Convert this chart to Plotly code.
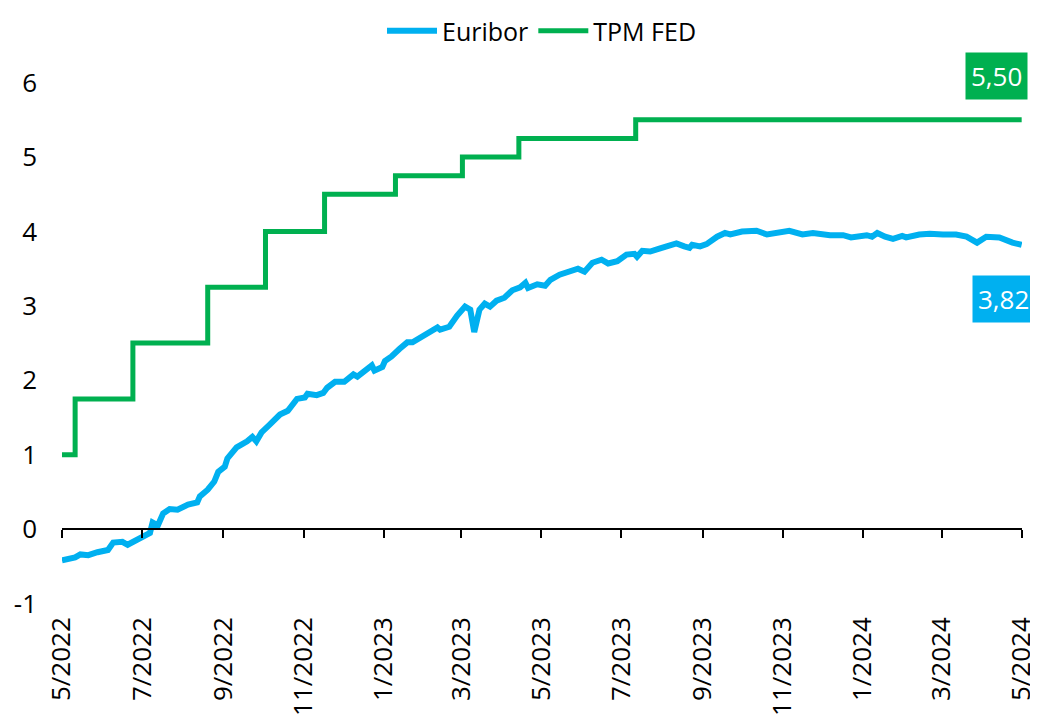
import plotly.graph_objects as go

# ---- data ----
euribor_dates = [
    "2022-05-01", "2022-05-11", "2022-05-15", "2022-05-21", "2022-05-28", "2022-06-05",
    "2022-06-09", "2022-06-16", "2022-06-20", "2022-07-01", "2022-07-07", "2022-07-09",
    "2022-07-13", "2022-07-17", "2022-07-22", "2022-07-28", "2022-08-05", "2022-08-12",
    "2022-08-14", "2022-08-20", "2022-08-25", "2022-08-28", "2022-09-02", "2022-09-04",
    "2022-09-11", "2022-09-19", "2022-09-23", "2022-09-26", "2022-09-30", "2022-10-06",
    "2022-10-14", "2022-10-20", "2022-10-27", "2022-11-02", "2022-11-04", "2022-11-11",
    "2022-11-16", "2022-11-19", "2022-11-25", "2022-12-02", "2022-12-09", "2022-12-12",
    "2022-12-18", "2022-12-23", "2022-12-25", "2022-12-31", "2023-01-02", "2023-01-07",
    "2023-01-13", "2023-01-19", "2023-01-23", "2023-01-31", "2023-02-11", "2023-02-13",
    "2023-02-20", "2023-02-26", "2023-03-04", "2023-03-08", "2023-03-11", "2023-03-15",
    "2023-03-19", "2023-03-23", "2023-03-28", "2023-04-03", "2023-04-09", "2023-04-15",
    "2023-04-19", "2023-04-21", "2023-04-28", "2023-05-04", "2023-05-08", "2023-05-15",
    "2023-05-23", "2023-05-29", "2023-06-03", "2023-06-09", "2023-06-16", "2023-06-21",
    "2023-06-28", "2023-07-05", "2023-07-11", "2023-07-13", "2023-07-17", "2023-07-23",
    "2023-07-30", "2023-08-07", "2023-08-12", "2023-08-18", "2023-08-22", "2023-08-24",
    "2023-08-30", "2023-09-04", "2023-09-12", "2023-09-18", "2023-09-22", "2023-10-01",
    "2023-10-12", "2023-10-20", "2023-10-27", "2023-11-06", "2023-11-16", "2023-11-24",
    "2023-12-07", "2023-12-17", "2023-12-23", "2024-01-04", "2024-01-08", "2024-01-12",
    "2024-01-18", "2024-01-24", "2024-01-31", "2024-02-03", "2024-02-13", "2024-02-21",
    "2024-03-02", "2024-03-12", "2024-03-20", "2024-03-28", "2024-04-04", "2024-04-14",
    "2024-04-24", "2024-05-01",
]
euribor_values = [
    -0.42, -0.38, -0.34, -0.35, -0.31, -0.28,
    -0.18, -0.17, -0.21, -0.12, -0.05, 0.09,
    0.05, 0.21, 0.27, 0.26, 0.33, 0.36,
    0.44, 0.53, 0.64, 0.77, 0.84, 0.95,
    1.10, 1.18, 1.24, 1.18, 1.30, 1.40,
    1.54, 1.59, 1.75, 1.77, 1.82, 1.80,
    1.83, 1.90, 1.98, 1.98, 2.08, 2.05,
    2.14, 2.20, 2.13, 2.18, 2.26, 2.32,
    2.42, 2.51, 2.51, 2.60, 2.71, 2.68,
    2.72, 2.87, 2.99, 2.95, 2.65, 2.95,
    3.03, 2.99, 3.07, 3.11, 3.21, 3.25,
    3.31, 3.24, 3.29, 3.27, 3.35, 3.42,
    3.47, 3.50, 3.46, 3.58, 3.62, 3.57,
    3.60, 3.69, 3.70, 3.66, 3.74, 3.73,
    3.77, 3.81, 3.84, 3.80, 3.78, 3.82,
    3.80, 3.83, 3.93, 3.98, 3.96, 4.00,
    4.01, 3.96, 3.98, 4.01, 3.96, 3.98,
    3.95, 3.95, 3.92, 3.95, 3.93, 3.98,
    3.93, 3.90, 3.94, 3.92, 3.96, 3.97,
    3.96, 3.96, 3.93, 3.85, 3.93, 3.92,
    3.85, 3.82,
]

fed_dates = [
    "2022-05-01", "2022-05-11", "2022-06-24", "2022-08-20", "2022-10-03", "2022-11-17",
    "2023-01-10", "2023-03-02", "2023-04-14", "2023-07-12", "2024-05-01",
]
fed_values = [1.00, 1.75, 2.50, 3.25, 4.00, 4.50, 4.75, 5.00, 5.25, 5.50, 5.50]

y_tick_values = [-1, 0, 1, 2, 3, 4, 5, 6]
y_tick_labels = ["-1", "0", "1", "2", "3", "4", "5", "6"]

x_start = "2022-05-01"
x_end = "2024-05-01 06:00"
y_min, y_max = -1.1, 6.6

# ---- styles ----
BLUE = "#00B0F0"
GREEN = "#00B050"
FONT = "Open Sans"

fig = go.Figure()
fig.add_trace(go.Scatter(
    x=euribor_dates, y=euribor_values, name="Euribor", mode="lines",
    line=dict(color=BLUE, width=6), xaxis="x", yaxis="y",
))
fig.add_trace(go.Scatter(
    x=fed_dates, y=fed_values, name="TPM FED", mode="lines",
    line=dict(color=GREEN, width=5, shape="hv"), xaxis="x2", yaxis="y",
))


def fmt(v):
    return f"{v:.2f}".replace(".", ",")


fig.add_annotation(
    x=fed_dates[-1], y=fed_values[-1], xref="x", yref="y",
    text=fmt(fed_values[-1]), showarrow=False,
    xanchor="right", yanchor="bottom", xshift=6, yshift=20,
    bgcolor=GREEN, borderpad=5, font=dict(family=FONT, size=26, color="white"),
)
fig.add_annotation(
    x=euribor_dates[-1], y=euribor_values[-1], xref="x", yref="y",
    text=fmt(euribor_values[-1]), showarrow=False,
    xanchor="right", yanchor="top", xshift=13, yshift=-30,
    bgcolor=BLUE, borderpad=5, font=dict(family=FONT, size=26, color="white"),
)

zero_pos = (0 - y_min) / (y_max - y_min)

fig.update_layout(
    width=1030, height=713,
    margin=dict(l=54, r=16, t=30, b=110, autoexpand=False),
    paper_bgcolor="white", plot_bgcolor="white",
    font=dict(family=FONT, size=26, color="black"),
    showlegend=True,
    legend=dict(
        orientation="h", x=0.5, xanchor="center",
        yref="container", y=1.0, yanchor="top",
        font=dict(family=FONT, size=25, color="black"),
        itemwidth=50, tracegroupgap=0, bgcolor="rgba(0,0,0,0)",
    ),
    xaxis=dict(
        type="date", range=[x_start, x_end],
        tick0=x_start, dtick="M2", tickformat="%-m/%Y", tickangle=-90,
        showline=False, showgrid=False, zeroline=False, ticks="",
        tickfont=dict(family=FONT, size=26, color="black"),
        automargin=False, ticklabeloverflow="allow",
    ),
    xaxis2=dict(
        type="date", matches="x", overlaying="x", anchor="free", position=zero_pos,
        side="bottom",
        tick0=x_start, dtick="M2", showticklabels=False,
        showline=True, linecolor="black", linewidth=2,
        ticks="outside", ticklen=8, tickwidth=2, tickcolor="black",
        showgrid=False, zeroline=False,
    ),
    yaxis=dict(
        range=[y_min, y_max], tickvals=y_tick_values, ticktext=y_tick_labels,
        showline=False, showgrid=False, zeroline=False, ticks="",
        tickfont=dict(family=FONT, size=26, color="black"),
        ticklabelstandoff=24, automargin=False,
    ),
)

fig.write_html("out.html")
